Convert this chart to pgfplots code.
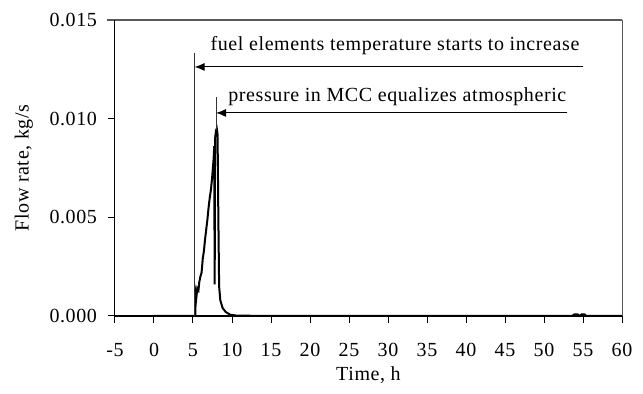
\documentclass[border=0pt]{standalone}
\usepackage{pgfplots}
\pgfplotsset{compat=1.18}
\usepackage{fontspec}
\setmainfont{Liberation Serif}[LetterSpace=3]
\usetikzlibrary{arrows.meta}
\begin{document}
\begin{tikzpicture}
\path[use as bounding box] (-57.5pt,-39pt) rectangle (264pt,158pt);
\begin{axis}[
  scale only axis,
  width=253.5pt, height=148pt,
  xmin=-5, xmax=60, ymin=0, ymax=0.015,
  axis line style={draw=none},
  xtick={-5,0,...,60},
  ytick={0,0.005,0.010,0.015},
  tick align=outside,
  major tick length=3.5pt,
  xtick pos=bottom, ytick pos=left,
  tick style={black, line width=0.5pt},
  /pgf/number format/assume math mode=true,
  yticklabel style={/pgf/number format/fixed, /pgf/number format/fixed zerofill, /pgf/number format/precision=3, font=\fontsize{10}{12}\selectfont, xshift=-2pt},
  scaled y ticks=false,
  xticklabel style={font=\fontsize{10}{12}\selectfont, yshift=-6.5pt},
  xlabel={Time, h},
  ylabel={Flow rate, kg/s},
  label style={font=\fontsize{10}{12}\selectfont},
  xlabel style={at={(axis description cs:0.5,0)}, anchor=center, yshift=-29.5pt},
  ylabel style={at={(axis description cs:-0.18,0.5)}, anchor=center, rotate=0},
  clip=false,
]
% frame
\draw[gray!70!black, line width=0.8pt] (axis cs:-6,0.015) -- (axis cs:60,0.015);
\draw[gray!70!black, line width=0.4pt] (axis cs:60,0.015) -- (axis cs:60,0);
\draw[black, line width=0.5pt] (axis cs:-5,0) -- (axis cs:-5,0.015);
\draw[black, line width=1pt] (axis cs:-5,0) -- (axis cs:60,0);
\addplot[black, line width=1pt, mark=none] coordinates {
(0,0) (5.3,0) (5.35,0.0012) (5.45,0.0010) (5.55,0.0014) (5.7,0.0013) (5.8,0.0017) (5.95,0.0020)
(6.1,0.0022) (6.25,0.0029) (6.4,0.0033) (6.55,0.0039) (6.7,0.0044) (6.85,0.0049)
(7.0,0.0055) (7.15,0.0060) (7.3,0.0064) (7.45,0.0070) (7.55,0.0075) (7.65,0.0080)
(7.72,0.0086) (7.78,0.0016) (7.83,0.0090) (7.95,0.0094) (8.05,0.0095) (8.15,0.0092)
(8.25,0.0050) (8.35,0.0015) (8.5,0.0008) (8.8,0.0004) (9.2,0.0002) (9.8,0.00006)
(10.6,0.00002) (15,0) (53.6,0) (53.9,0.00008) (54.3,0.00008) (54.5,0) (54.8,0.00008)
(55.2,0.00008) (55.4,0) (60,0)
};
% annotations
\draw[black!80, line width=0.5pt] (axis cs:5.2,0) -- (axis cs:5.2,0.01333);
\draw[black, line width=0.5pt, -{Latex[length=5pt,width=4pt]}] (axis cs:55,0.01262) -- (axis cs:5.2,0.01262);
\node[font=\fontsize{10}{12}\selectfont] at (axis cs:30.9,0.0137) {fuel elements temperature starts to increase};
\draw[black!80, line width=0.5pt] (axis cs:7.95,0.0094) -- (axis cs:7.95,0.0111);
\draw[black, line width=0.5pt, -{Latex[length=5pt,width=4pt]}] (axis cs:53,0.01029) -- (axis cs:7.95,0.01029);
\node[font=\fontsize{10}{12}\selectfont] at (axis cs:31.2,0.0111) {pressure in MCC equalizes atmospheric};
\end{axis}
\end{tikzpicture}
\end{document}
